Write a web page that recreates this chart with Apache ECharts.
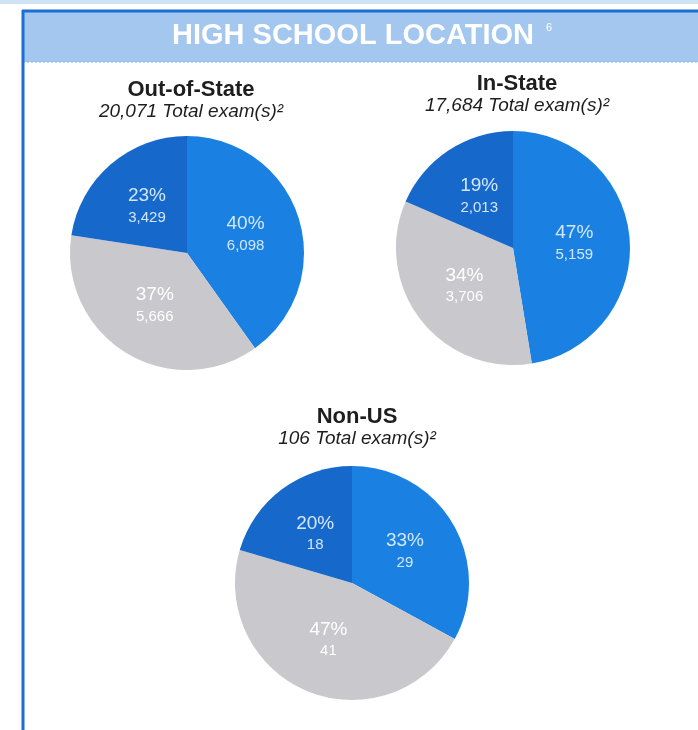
<!DOCTYPE html>
<html>
<head>
<meta charset="utf-8">
<script src="https://cdn.jsdelivr.net/npm/echarts@6/dist/echarts.min.js"></script>
<style>
html,body{margin:0;padding:0;background:#fff;}
#c{width:698px;height:730px;}
</style>
</head>
<body>
<div id="c"></div>
<script>
var sliceNames = ['Group A', 'Group B', 'Group C'];
var chartTitles = ['Out-of-State', 'In-State', 'Non-US'];
var totalExams = ['20,071', '17,684', '106'];
var outOfState = [6098, 5666, 3429];
var inState = [5159, 3706, 2013];
var nonUS = [29, 41, 18];

var FONT = 'Liberation Sans, Arial, sans-serif';
var sliceColors = ['#1a80e2', '#c9c9cd', '#1768cb'];
var labelColors = ['#d3e7fb', '#ffffff', '#d3e7fb'];

var chart = echarts.init(document.getElementById('c'), null, {renderer: 'canvas'});

function makeData(vals) {
  return vals.map(function (v, i) {
    return {
      name: sliceNames[i],
      value: v,
      itemStyle: {color: sliceColors[i]},
      label: {color: labelColors[i]}
    };
  });
}

function pieSeries(vals, cx, cy) {
  return {
    type: 'pie',
    center: [cx, cy],
    radius: [0, 117],
    startAngle: 90,
    clockwise: true,
    silent: true,
    animation: false,
    itemStyle: {borderWidth: 0},
    label: {
      show: true,
      position: 'inside',
      fontFamily: FONT,
      formatter: function (p) {
        return '{p|' + Math.round(p.percent) + '%}\n{v|' + p.value.toLocaleString('en-US') + '}';
      },
      rich: {
        p: {fontSize: 19, lineHeight: 23, fontFamily: FONT},
        v: {fontSize: 15, lineHeight: 21, fontFamily: FONT}
      }
    },
    labelLine: {show: false},
    data: makeData(vals)
  };
}

function titleBlock(i, x, y) {
  return [{
    text: chartTitles[i],
    left: x, top: y,
    textAlign: 'center',
    textStyle: {fontFamily: FONT, fontWeight: 'bold', fontSize: 22, color: '#1e1e1e'}
  }, {
    text: totalExams[i] + ' Total exam(s)²',
    left: x, top: y + 23,
    textAlign: 'center',
    textStyle: {fontFamily: FONT, fontStyle: 'italic', fontWeight: 'normal', fontSize: 19, color: '#1e1e1e'}
  }];
}

var titles = [].concat(titleBlock(0, 186, 74), titleBlock(1, 512, 68), titleBlock(2, 352, 401));

chart.setOption({
  animation: false,
  title: titles,
  graphic: [
    {type: 'rect', shape: {x: 23, y: 12, width: 675, height: 50}, style: {fill: '#a4c7ef'}, z: -1},
    {type: 'line', shape: {x1: 23, y1: 62, x2: 698, y2: 62}, style: {stroke: '#7fb0e6', lineWidth: 1, lineDash: [2, 2]}},
    {type: 'line', shape: {x1: 22, y1: 11, x2: 698, y2: 11}, style: {stroke: '#1a6fd3', lineWidth: 3}},
    {type: 'line', shape: {x1: 23, y1: 10, x2: 23, y2: 730}, style: {stroke: '#1a6fd3', lineWidth: 3}},
    {type: 'rect', shape: {x: 0, y: 0, width: 698, height: 4}, style: {fill: '#cfe3f6'}, z: -1},
    {
      type: 'text', x: 172, y: 36,
      style: {
        text: 'HIGH SCHOOL LOCATION',
        fill: '#ffffff',
        font: 'bold 29px ' + FONT,
        textAlign: 'left',
        textVerticalAlign: 'middle'
      }
    },
    {
      type: 'text', x: 546, y: 28,
      style: {
        text: '6',
        fill: '#ffffff',
        font: '11px ' + FONT,
        textAlign: 'left',
        textVerticalAlign: 'middle'
      }
    }
  ],
  series: [
    pieSeries(outOfState, 187, 253),
    pieSeries(inState, 513, 248),
    pieSeries(nonUS, 352, 583)
  ]
});
</script>
</body>
</html>
